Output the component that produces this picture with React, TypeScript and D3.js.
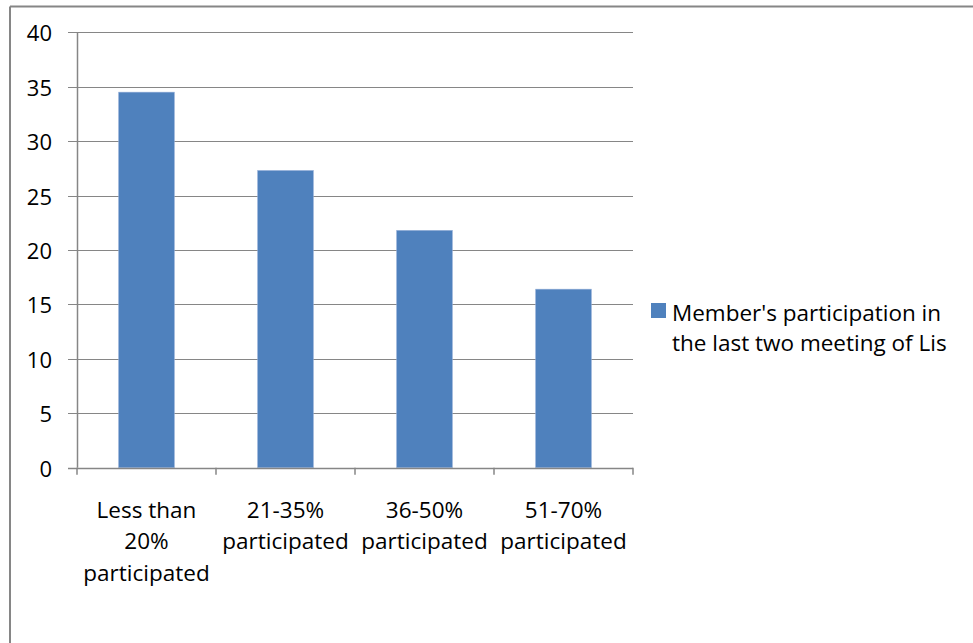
import React from "react";
import * as d3 from "d3";

const categories: string[][] = [
  ["Less than", "20%", "participated"],
  ["21-35%", "participated"],
  ["36-50%", "participated"],
  ["51-70%", "participated"],
];
const values: number[] = [34.5, 27.3, 21.8, 16.4];
const yTicks: number[] = [0, 5, 10, 15, 20, 25, 30, 35, 40];
const seriesName: string[] = ["Member's participation in", "the last two meeting of Lis"];

const W = 973;
const H = 643;
const FONT = "'Open Sans', 'Noto Sans', sans-serif";
const BAR = "#4F81BD";
const GRID = "#868686";

export default function App() {
  const left = 77;
  const right = 633;
  const top = 32.3;
  const bottom = 467.7;

  const x = d3
    .scaleBand<number>()
    .domain(d3.range(categories.length))
    .range([left, right])
    .paddingInner(0.6)
    .paddingOuter(0.3);
  const band = (right - left) / categories.length;
  const y = d3.scaleLinear().domain([0, 40]).range([bottom, top]);

  return (
    <svg
      width={W}
      height={H}
      style={{ position: "absolute", left: 0, top: 0, background: "#fff" }}
      fontFamily={FONT}
    >
      {/* outer chart frame */}
      <line x1={10} y1={6.5} x2={W} y2={6.5} stroke={GRID} strokeWidth={2} />
      <line x1={10} y1={6.5} x2={10} y2={H} stroke={GRID} strokeWidth={2} />

      {/* gridlines, y ticks and labels */}
      {yTicks.map((t) => (
        <g key={t}>
          <line
            x1={68}
            x2={right}
            y1={Math.round(y(t)) + 0.5}
            y2={Math.round(y(t)) + 0.5}
            stroke={GRID}
            strokeWidth={1.2}
          />
          <text
            x={52}
            y={y(t)}
            textAnchor="end"
            dominantBaseline="central"
            fontSize={22}
            fill="#000"
          >
            {t}
          </text>
        </g>
      ))}

      {/* bars */}
      {values.map((v, i) => (
        <rect
          key={i}
          x={x(i)}
          y={y(v)}
          width={x.bandwidth()}
          height={y(0) - y(v)}
          fill={BAR}
          stroke="#8EAAD6"
          strokeWidth={0.6}
        />
      ))}

      {/* axes */}
      <line x1={left + 0.5} x2={left + 0.5} y1={top} y2={bottom} stroke={GRID} strokeWidth={1.5} />
      <line x1={68} x2={right} y1={Math.round(bottom) + 0.5} y2={Math.round(bottom) + 0.5} stroke={GRID} strokeWidth={1.5} />
      {d3.range(categories.length + 1).map((i) => (
        <line
          key={i}
          x1={left + i * band}
          x2={left + i * band}
          y1={bottom}
          y2={bottom + 7}
          stroke={GRID}
          strokeWidth={1.5}
        />
      ))}

      {/* category labels */}
      {categories.map((lines, i) => (
        <text
          key={i}
          x={(x(i) as number) + x.bandwidth() / 2}
          textAnchor="middle"
          fontSize={22.5}
          fill="#000"
        >
          {lines.map((l, j) => (
            <tspan key={j} x={(x(i) as number) + x.bandwidth() / 2} y={509 + j * 31.5} dominantBaseline="central">
              {l}
            </tspan>
          ))}
        </text>
      ))}

      {/* legend */}
      <rect x={651} y={303} width={15} height={15} fill={BAR} />
      {seriesName.map((l, j) => (
        <text
          key={j}
          x={672}
          y={312 + j * 30.5}
          dominantBaseline="central"
          fontSize={22.5}
          fill="#000"
        >
          {l}
        </text>
      ))}
    </svg>
  );
}
